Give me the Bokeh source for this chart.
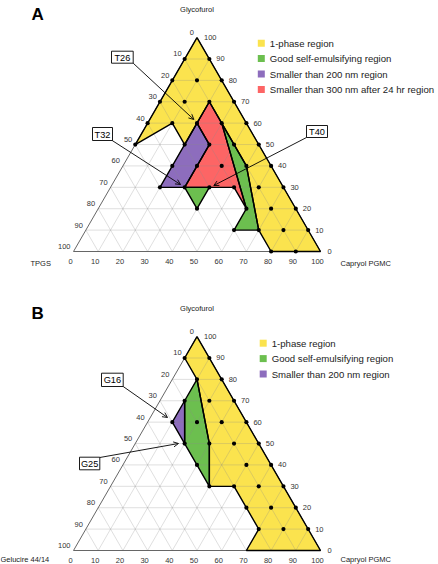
import numpy as np
from bokeh.plotting import figure
from bokeh.models import Range1d, Arrow, OpenHead
from bokeh.core.properties import value
from bokeh.embed import file_html
from bokeh.resources import INLINE

# ---------------- data (ternary: g = Glycofurol %, c = Capryol PGMC %) ----------------
ticks = [0, 10, 20, 30, 40, 50, 60, 70, 80, 90, 100]

# Panel A (TPGS / Glycofurol / Capryol PGMC)
A_yellow_g = [100, 50, 60, 50, 60, 70, 60, 40, 10, 0, 0]
A_yellow_c = [0, 0, 10, 20, 20, 20, 30, 50, 70, 80, 100]
A_red_g = [70, 60, 20, 30, 30, 50, 60]
A_red_c = [20, 30, 60, 50, 30, 30, 20]
A_purple_g = [60, 30, 30, 50]
A_purple_c = [20, 20, 30, 30]
A_green1_g = [60, 40, 10, 10, 20]
A_green1_c = [30, 50, 70, 60, 60]
A_green2_g = [30, 30, 20]
A_green2_c = [30, 40, 40]
A_dots_g = [90, 90, 80, 80, 80, 70, 70, 70, 70, 60, 60, 60, 60, 60, 50, 50, 50, 50, 50,
            40, 40, 40, 40, 40, 30, 30, 30, 30, 30, 30, 20, 20, 20, 20, 10, 10, 10, 10, 0, 0]
A_dots_c = [0, 10, 0, 10, 20, 0, 10, 20, 30, 0, 10, 20, 30, 40, 0, 20, 30, 40, 50,
            20, 30, 40, 50, 60, 20, 30, 40, 50, 60, 70, 40, 60, 70, 80, 60, 70, 80, 90, 80, 90]
A_legend = ["1-phase region", "Good self-emulsifying region", "Smaller than 200 nm region",
            "Smaller than 300 nm after 24 hr region"]

# Panel B (Gelucire 44/14 / Glycofurol / Capryol PGMC)
B_yellow_g = [100, 90, 80, 50, 30, 30, 10, 0, 0]
B_yellow_c = [0, 0, 10, 30, 40, 50, 70, 70, 100]
B_green_g = [80, 70, 50, 30, 50]
B_green_c = [10, 10, 20, 40, 30]
B_purple_g = [70, 60, 50]
B_purple_c = [10, 10, 20]
B_dots_g = [90, 90, 80, 80, 70, 70, 70, 60, 60, 60, 60, 50, 50, 50, 50, 40, 40, 40,
            30, 30, 30, 30, 20, 20, 20, 10, 10, 10]
B_dots_c = [0, 10, 10, 20, 10, 20, 30, 10, 20, 30, 40, 20, 30, 40, 50, 30, 50, 60,
            40, 50, 60, 70, 60, 70, 80, 70, 80, 90]
B_legend = ["1-phase region", "Good self-emulsifying region", "Smaller than 200 nm region"]

YELLOW = "#fbe34e"
GREEN = "#6cbf4f"
PURPLE = "#8d6dbd"
RED = "#fd6565"
FONT = value("Liberation Sans")

S = 2.47
X0 = 73.0
H = np.sqrt(3) / 2


def proj(g, c, base):
    g = np.asarray(g, float)
    c = np.asarray(c, float)
    return X0 + (c + g / 2) * S, base - g * H * S


p = figure(width=438, height=564, x_range=Range1d(0, 438), y_range=Range1d(564, 0),
           output_backend="svg", toolbar_location=None, x_axis_type=None, y_axis_type=None,
           min_border=0, min_border_left=0, min_border_right=0, min_border_top=0,
           min_border_bottom=0, outline_line_color=None, background_fill_color="white")
p.xgrid.visible = False
p.ygrid.visible = False


def panel(base, regions, dots_g, dots_c, left_title, letter, legend, leg_x, leg_y, title_dy):
    # regions fill
    for (gg, cc, col) in regions:
        xs, ys = proj(gg, cc, base)
        p.patch(list(xs), list(ys), fill_color=col, line_color=None)
    # grid
    gx, gy = [], []
    for k in ticks[1:-1]:
        for (g1, c1, g2, c2) in [(k, 0, k, 100 - k), (0, k, 100 - k, k), (0, 100 - k, 100 - k, 0)]:
            xs, ys = proj([g1, g2], [c1, c2], base)
            gx.append(list(xs)); gy.append(list(ys))
    p.multi_line(gx, gy, line_color="#8a8a8a", line_alpha=0.35, line_width=0.8)
    # triangle outline
    xs, ys = proj([0, 100, 0, 0], [0, 0, 100, 0], base)
    p.line(list(xs), list(ys), line_color="#555555", line_width=0.9)
    # region outlines
    for (gg, cc, col) in regions:
        xs, ys = proj(gg + gg[:1], cc + cc[:1], base)
        p.line(list(xs), list(ys), line_color="black", line_width=1.4)
    # dots
    xs, ys = proj(dots_g, dots_c, base)
    p.scatter(list(xs), list(ys), size=4.2, fill_color="black", line_color=None)
    # tick labels
    txt = [str(t) for t in ticks]
    lx, ly = proj(ticks, [0] * 11, base)
    p.text(list(lx - 3), list(ly - 5), text=[str(100 - t) for t in ticks], text_font=FONT,
           text_font_size="7.5px", text_align="right", text_baseline="middle", text_color="#333333")
    rx, ry = proj(ticks, [100 - t for t in ticks], base)
    p.text(list(rx + 7), list(ry), text=txt, text_font=FONT, text_font_size="7.5px",
           text_align="left", text_baseline="middle", text_color="#333333")
    bx, by = proj([0] * 11, ticks, base)
    p.text(list(bx - 3), list(by + 10), text=txt, text_font=FONT, text_font_size="7.5px",
           text_align="center", text_baseline="middle", text_color="#333333")
    # axis titles
    ax, ay = proj([100], [0], base)
    p.text([ax[0]], [ay[0] - 28.5], text=["Glycofurol"], text_font=FONT, text_font_size="7.5px",
           text_align="center", text_baseline="middle", text_color="#222222")
    p.text([left_title[1]], [base + title_dy], text=[left_title[0]], text_font=FONT,
           text_font_size="7.5px", text_align="left", text_baseline="middle", text_color="#222222")
    p.text([340], [base + title_dy], text=["Capryol PGMC"], text_font=FONT, text_font_size="7.5px",
           text_align="left", text_baseline="middle", text_color="#222222")
    p.text([31], [ay[0] - 23.5], text=[letter], text_font=FONT, text_font_size="17px",
           text_font_style="bold", text_align="left", text_baseline="middle", text_color="black")
    # legend
    cols = [YELLOW, GREEN, PURPLE, RED][:len(legend)]
    lyy = [leg_y + 15.4 * i for i in range(len(legend))]
    p.rect([leg_x] * len(legend), lyy, width=7, height=7, fill_color=cols, line_color=None)
    p.text([leg_x + 8.5] * len(legend), lyy, text=legend, text_font=FONT, text_font_size="9.6px",
           text_align="left", text_baseline="middle", text_color="#222222")


panel(251, [(A_yellow_g, A_yellow_c, YELLOW), (A_red_g, A_red_c, RED),
            (A_purple_g, A_purple_c, PURPLE), (A_green1_g, A_green1_c, GREEN),
            (A_green2_g, A_green2_c, GREEN)],
      A_dots_g, A_dots_c, ("TPGS", 30), "A", A_legend, 260.8, 42.7, 12)
panel(550, [(B_yellow_g, B_yellow_c, YELLOW), (B_green_g, B_green_c, GREEN),
            (B_purple_g, B_purple_c, PURPLE)],
      B_dots_g, B_dots_c, ("Gelucire 44/14", 0), "B", B_legend, 262.7, 342.7, 9.2)

# callout labels
callouts = [("T26", 111, 132.7, 50.7, 62.7, 132.7, 62.7, 193.3, 119),
            ("T32", 92, 112, 127, 140, 111.7, 140, 180, 184),
            ("T40", 306, 327, 125, 137, 306, 137, 213.3, 185),
            ("G16", 101, 122.7, 372.7, 386, 122.7, 386, 167, 417),
            ("G25", 79, 99.3, 456.7, 469.3, 99.3, 457, 178, 443)]
for (t, l, r, top, bot, xs0, ys0, xe, ye) in callouts:
    p.add_layout(Arrow(end=OpenHead(size=5, line_width=0.9, line_color="black"),
                       x_start=xs0, y_start=ys0, x_end=xe, y_end=ye,
                       line_width=0.9, line_color="black"))
    p.quad(left=[l], right=[r], top=[top], bottom=[bot], fill_color="white",
           line_color="black", line_width=0.9)
    p.text([(l + r) / 2], [(top + bot) / 2 + 0.5], text=[t], text_font=FONT, text_font_size="9.2px",
           text_align="center", text_baseline="middle", text_color="black")

open("out.html", "w").write(file_html(p, INLINE))
